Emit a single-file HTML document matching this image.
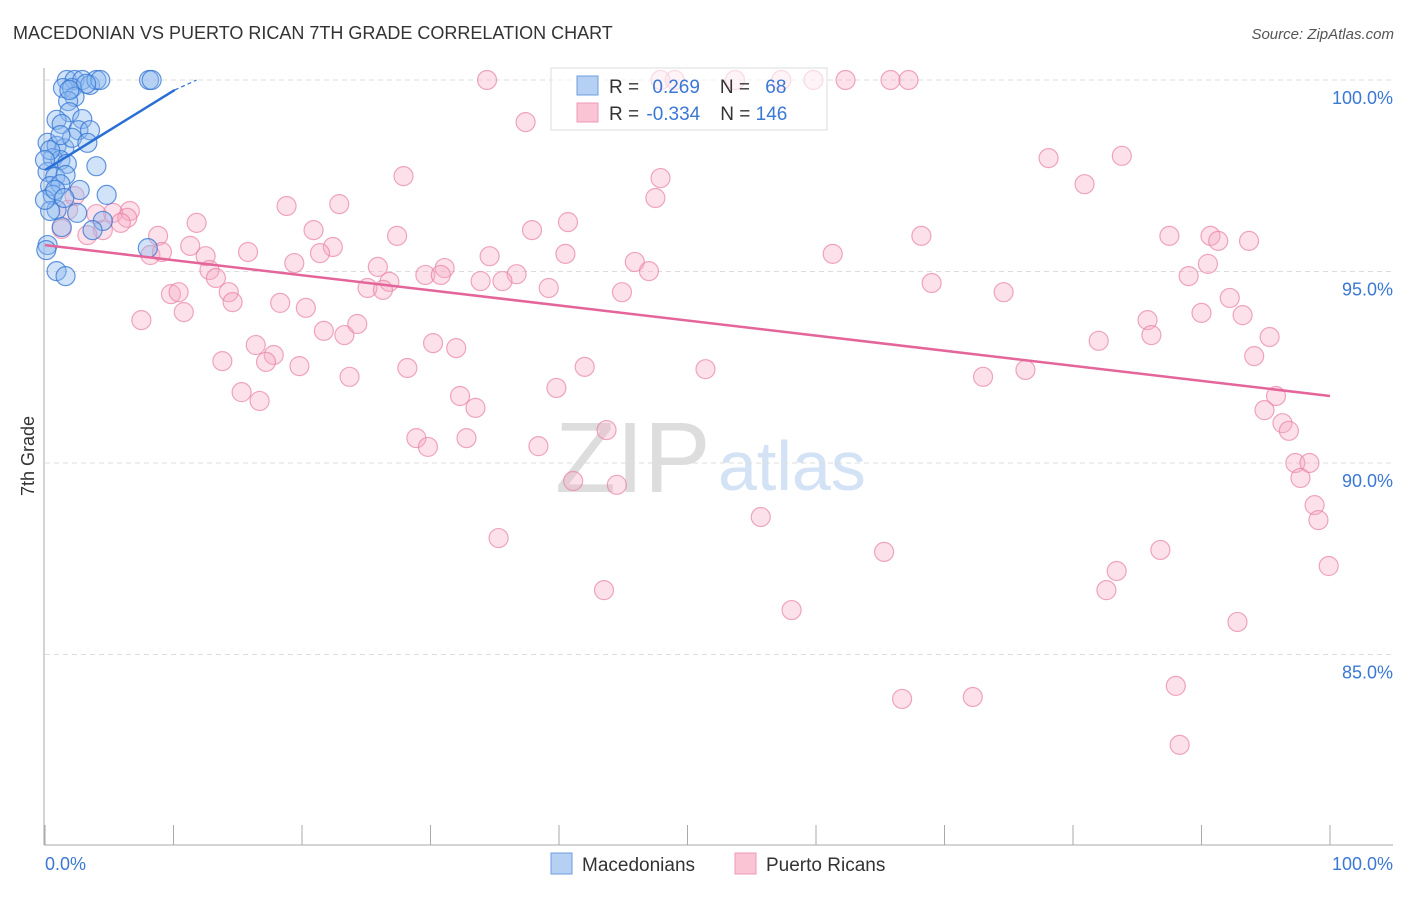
<!DOCTYPE html>
<html><head><meta charset="utf-8"><style>
body{margin:0;background:#fff;font-family:"Liberation Sans",sans-serif}
svg text{font-family:"Liberation Sans",sans-serif}
</style></head><body>
<svg id="chart" width="1406" height="892" viewBox="0 0 1406 892">
<text x="13" y="39" font-size="18" fill="#333">MACEDONIAN VS PUERTO RICAN 7TH GRADE CORRELATION CHART</text>
<text x="1394" y="39" font-size="15" fill="#555" font-style="italic" text-anchor="end">Source: ZipAtlas.com</text>
<g>
<text x="555" y="492" font-size="100" fill="#ddd" font-family="Liberation Serif">ZIP</text>
<text x="718" y="490" font-size="70" fill="#d3e2f5">atlas</text>
</g>
<g id="grid"></g>
<g id="axes"></g>
<g id="marks"></g>
<g>
<rect x="551" y="68" width="276" height="62" fill="rgba(255,255,255,0.6)" stroke="#ddd"/>
<rect x="577" y="76" width="21" height="19" fill="#b5d0f2" stroke="#6d9de0"/>
<rect x="577" y="103" width="21" height="19" fill="#fac4d4" stroke="#ee9ab5"/>
<text x="609" y="93" font-size="19" fill="#333">R = <tspan fill="#3a78d4" dx="8">0.269</tspan><tspan dx="20" fill="#333">N = </tspan><tspan fill="#3a78d4" dx="10">68</tspan></text>
<text x="609" y="120" font-size="19" fill="#333">R = <tspan fill="#3a78d4" dx="2">-0.334</tspan><tspan dx="20" fill="#333">N = </tspan><tspan fill="#3a78d4">146</tspan></text>
</g>
<g>
<rect x="551" y="853" width="21" height="21" fill="#b5d0f2" stroke="#6d9de0"/>
<text x="582" y="871" font-size="19" fill="#333">Macedonians</text>
<rect x="735" y="853" width="21" height="21" fill="#fac4d4" stroke="#ee9ab5"/>
<text x="766" y="871" font-size="19" fill="#333">Puerto Ricans</text>
</g>
<text x="34" y="456" font-size="18" fill="#333" transform="rotate(-90 34 456)" text-anchor="middle">7th Grade</text>
</svg>
<script>
const yTicks=[100,95,90,85];
const yTickLabels=["100.0%","95.0%","90.0%","85.0%"];
const xTicks=[0,10,20,30,40,50,60,70,80,90,100];
const xTickLabels=["0.0%","100.0%"];
const blueX=[1.7,2.3,2.9,3.5,4.0,4.3,8.1,8.3,1.4,2.1,3.2,2.3,1.8,1.9,0.9,2.9,1.3,2.6,3.5,0.2,0.9,1.5,2.1,3.3,0.6,1.2,1.7,4.0,0.2,0.8,1.6,0.4,1.2,2.7,4.8,0.6,0.9,2.5,0.4,1.3,4.5,3.7,0.2,0.1,8.0,0.9,1.6,0,0.4,1.2,0,1.9,0.8,1.5];
const blueY=[100,100,100,99.87,100,100,100,100,99.79,99.79,99.9,99.56,99.45,99.16,98.96,98.98,98.85,98.69,98.69,98.36,98.28,98.22,98.49,98.36,97.96,97.91,97.81,97.75,97.6,97.47,97.52,97.23,97.28,97.13,97.0,97.0,96.61,96.53,96.58,96.16,96.32,96.08,95.69,95.56,95.61,95.01,94.88,96.87,98.17,98.56,97.91,99.74,97.13,96.92];
const pinkX=[34.4,49.0,53.7,57.3,59.8,62.3,65.8,67.2,47.9,37.4,78.1,83.8,80.9,27.9,47.9,47.5,18.8,22.9,11.8,6.6,5.3,6.4,4.0,5.9,4.5,3.3,2.3,1.8,1.3,8.8,11.3,15.8,20.9,22.4,21.4,27.4,37.9,40.7,40.5,34.6,36.7,25.9,31.1,29.6,30.8,33.9,35.6,26.8,25.1,26.3,19.4,12.5,12.8,13.3,9.8,10.4,14.3,14.6,10.8,7.5,18.3,20.3,39.2,44.9,45.9,47.0,61.3,68.2,69.0,74.6,87.5,90.7,91.3,93.7,90.5,89.0,92.2,90.0,93.2,85.8,86.1,82.0,95.3,94.1,76.3,73.0,51.4,42.0,39.8,28.2,23.7,21.7,23.3,24.3,30.2,32.0,17.8,16.4,17.2,19.8,13.8,15.3,16.7,32.3,33.5,28.9,29.8,32.8,38.4,43.7,41.1,44.5,35.3,43.5,55.7,58.1,65.3,66.7,72.2,83.4,82.6,86.8,92.8,88.0,88.3,95.8,94.9,96.3,96.8,97.3,98.4,97.7,98.8,99.1,99.9,8.2,9.1];
const pinkY=[100,100,100,100,100,100,100,100,100,98.9,97.96,98.02,97.28,97.49,97.44,96.92,96.71,96.76,96.27,96.58,96.53,96.4,96.5,96.27,96.08,95.95,96.97,96.61,96.11,95.93,95.67,95.51,96.08,95.64,95.48,95.93,96.08,96.29,95.46,95.4,94.93,95.12,95.09,94.91,94.91,94.75,94.75,94.73,94.57,94.52,95.22,95.4,95.04,94.83,94.41,94.46,94.46,94.2,93.94,93.73,94.18,94.05,94.57,94.46,95.25,95.01,95.46,95.93,94.7,94.46,95.93,95.93,95.8,95.8,95.2,94.88,94.31,93.92,93.86,93.73,93.34,93.19,93.29,92.79,92.43,92.25,92.45,92.51,91.96,92.48,92.25,93.45,93.34,93.63,93.13,93.0,92.82,93.08,92.64,92.53,92.66,91.85,91.62,91.75,91.44,90.65,90.42,90.65,90.44,90.86,89.53,89.43,88.04,86.68,88.59,86.16,87.68,83.84,83.89,87.18,86.68,87.73,85.85,84.18,82.64,91.75,91.38,91.04,90.84,90.0,90.0,89.61,88.9,88.51,87.31,95.43,95.51];
const blueTrendX=[0,10.1,11.8];
const blueTrendY=[97.65,99.74,100];
const pinkTrendX=[0,100];
const pinkTrendY=[95.69,91.75];

const NS="http://www.w3.org/2000/svg";
const sx=v=>45+v*12.85;
const sy=v=>80+(100-v)*38.3;
function mk(tag,attrs,parent){const e=document.createElementNS(NS,tag);for(const k in attrs)e.setAttribute(k,attrs[k]);parent.appendChild(e);return e;}
const grid=document.getElementById('grid'),axes=document.getElementById('axes'),marks=document.getElementById('marks');
yTicks.forEach((t,i)=>{
  const l=mk('line',{x1:45,x2:1393,y1:sy(t),y2:sy(t),stroke:'#ddd','stroke-dasharray':'5,4'},grid);
  
  
  const tx=mk('text',{x:1393,y:sy(t)+24,'font-size':18,fill:'#3a78d4','text-anchor':'end'},axes);
  tx.textContent=yTickLabels[i];
  
  
});
const ax=mk('line',{x1:44,x2:44,y1:68,y2:845,stroke:'#aaa'},axes);


const bx=mk('line',{x1:44,x2:1393,y1:845,y2:845,stroke:'#aaa'},axes);


xTicks.forEach(t=>{
  const l=mk('line',{x1:sx(t),x2:sx(t),y1:825,y2:845,stroke:'#aaa'},axes);
  
  
});
const xl0=mk('text',{x:45,y:870,'font-size':18,fill:'#3a78d4'},axes);
xl0.textContent=xTickLabels[0];


const xl1=mk('text',{x:1393,y:870,'font-size':18,fill:'#3a78d4','text-anchor':'end'},axes);
xl1.textContent=xTickLabels[1];



pinkX.forEach((x,i)=>{
  const c=mk('circle',{cx:sx(x),cy:sy(pinkY[i]),r:9.5,fill:'rgba(246,168,194,0.35)',stroke:'rgba(232,130,165,0.7)','stroke-width':1.2},marks);
  
  
});
blueX.forEach((x,i)=>{
  const c=mk('circle',{cx:sx(x),cy:sy(blueY[i]),r:9.5,fill:'rgba(140,185,240,0.4)',stroke:'rgba(50,115,210,0.75)','stroke-width':1.2},marks);
  
  
});
const pt=mk('line',{x1:sx(pinkTrendX[0]),y1:sy(pinkTrendY[0]),x2:sx(pinkTrendX[1]),y2:sy(pinkTrendY[1]),stroke:'#e4659a','stroke-width':2.5},marks);


const bt=mk('line',{x1:sx(blueTrendX[0]),y1:sy(blueTrendY[0]),x2:sx(blueTrendX[1]),y2:sy(blueTrendY[1]),stroke:'#2a6fd6','stroke-width':2.5},marks);


const bd=mk('line',{x1:sx(blueTrendX[1]),y1:sy(blueTrendY[1]),x2:sx(blueTrendX[2]),y2:sy(blueTrendY[2]),stroke:'#2a6fd6','stroke-width':1.2,'stroke-dasharray':'4,3'},marks);


</script>
</body></html>
